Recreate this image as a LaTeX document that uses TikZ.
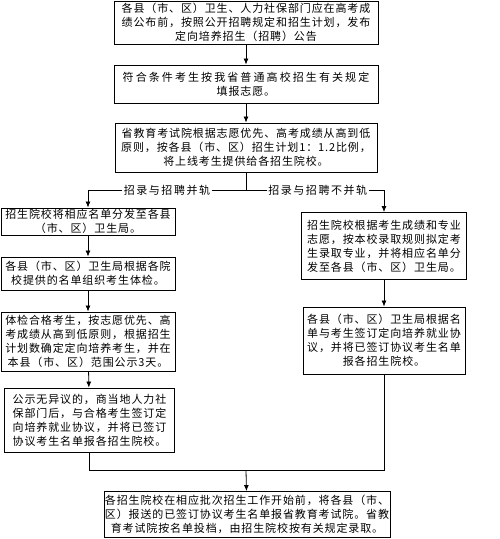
\documentclass[tikz,border=0pt]{standalone}
\usepackage{fontspec}
\usetikzlibrary{arrows.meta}
\setmainfont{Noto Sans CJK SC}[LetterSpace=8]
\newfontfamily\cjkwide{Noto Sans CJK SC}[LetterSpace=19]
\newfontfamily\cjklab{Noto Sans CJK SC}[LetterSpace=14]
\tikzset{
  boxnode/.style={draw, line width=0.9pt, align=center, inner sep=0pt,
    font=\fontsize{11}{14}\selectfont},
  conn/.style={line width=0.8pt},
  arr/.style={line width=0.8pt, -{Latex[length=6pt,width=5pt]}},
  lab/.style={fill=white, inner sep=1.5pt, font=\cjklab\fontsize{11}{13}\selectfont}
}
\begin{document}
\begin{tikzpicture}[x=1pt,y=-1pt]
\useasboundingbox (0,0) rectangle (500,539);
% top chain
\node[boxnode, minimum width=264pt, minimum height=43pt] (b1) at (246,22.5)
  {各县（市、区）卫生、人力社保部门应在高考成\\绩公布前，按照公开招聘规定和招生计划，发布\\定向培养招生（招聘）公告};
\node[boxnode, minimum width=264pt, minimum height=38pt] (b2) at (246,84)
  {{\cjkwide 符合条件考生按我省普通高校招生有关规定}\\填报志愿。};
\node[boxnode, minimum width=262pt, minimum height=49pt] (b3) at (246,147.5)
  {省教育考试院根据志愿优先、高考成绩从高到低\\原则，按各县（市、区）招生计划1：1.2比例，\\将上线考生提供给各招生院校。};
% left column
\node[boxnode, minimum width=174pt, minimum height=27pt] (l1) at (88,221.5)
  {招生院校将相应名单分发至各县\\（市、区）卫生局。};
\node[boxnode, minimum width=174pt, minimum height=33pt] (l2) at (88,273.5)
  {各县（市、区）卫生局根据各院\\校提供的名单组织考生体检。};
\node[boxnode, minimum width=174pt, minimum height=59pt] (l3) at (88,341.5)
  {体检合格考生，按志愿优先、高\\考成绩从高到低原则，根据招生\\计划数确定定向培养考生，并在\\本县（市、区）范围公示3天。};
\node[boxnode, minimum width=170pt, minimum height=64pt] (l4) at (89.5,420)
  {公示无异议的，商当地人力社\\保部门后，与合格考生签订定\\向培养就业协议，并将已签订\\协议考生名单报各招生院校。};
% right column
\node[boxnode, minimum width=165pt, minimum height=67pt] (r1) at (384,246)
  {招生院校根据考生成绩和专业\\志愿，按本校录取规则拟定考\\生录取专业，并将相应名单分\\发至各县（市、区）卫生局。};
\node[boxnode, minimum width=162pt, minimum height=67pt] (r2) at (384,340.5)
  {各县（市、区）卫生局根据名\\单与考生签订定向培养就业协\\议，并将已签订协议考生名单\\报各招生院校。};
% final
\node[boxnode, minimum width=286pt, minimum height=46pt] (f) at (247,514.5)
  {各招生院校在相应批次招生工作开始前，将各县（市、\\区）报送的已签订协议考生名单报省教育考试院。省教\\育考试院按名单投档，由招生院校按有关规定录取。};
% connectors
\coordinate (br) at (246,190);
\coordinate (mg) at (246,470);
\draw[arr] (b1) -- (b2);
\draw[arr] (b2) -- (b3);
\draw[conn] (b3) -- (br);
\draw[arr] (br) -| (l1) node[lab, pos=0.25] {招录与招聘并轨};
\draw[arr] (br) -| (r1) node[lab, pos=0.26] {招录与招聘不并轨};
\draw[arr] (l1) -- (l2);
\draw[arr] (l2) -- (l3);
\draw[arr] (l3) -- (l4);
\draw[arr] (r1) -- (r2);
\draw[conn] (l4.south) |- (mg);
\draw[conn] (r2.south) |- (mg);
\draw[arr] (mg) -- (f);
\end{tikzpicture}
\end{document}
